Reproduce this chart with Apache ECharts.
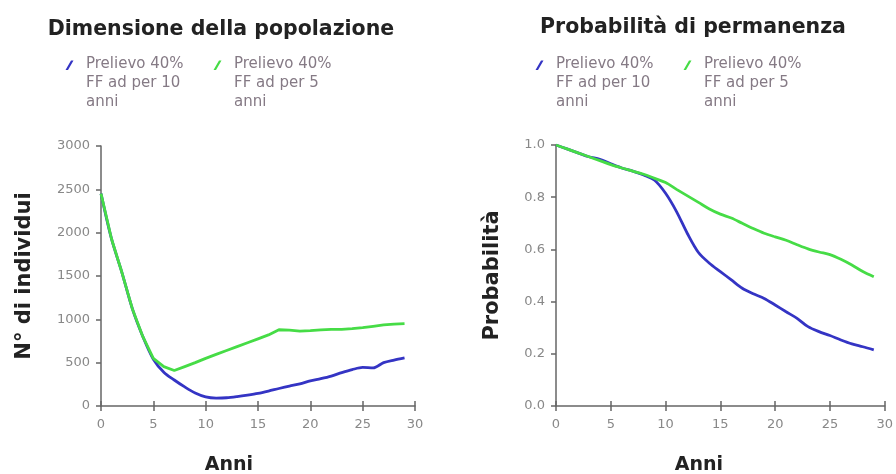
<!DOCTYPE html>
<html>
<head>
<meta charset="utf-8">
<script src="https://cdn.jsdelivr.net/npm/echarts@6/dist/echarts.min.js"></script>
<style>
html,body{margin:0;padding:0;background:#fff;}
#chart{width:896px;height:474px;}
</style>
</head>
<body>
<div id="chart"></div>
<script>
var years = [0,1,2,3,4,5,6,7,8,9,10,11,12,13,14,15,16,17,18,19,20,21,22,23,24,25,26,27,28,29];
var popBlue = [2450,1930,1540,1120,800,540,390,300,220,150,105,92,95,108,125,145,172,202,230,255,290,315,345,385,420,445,440,500,530,555];
var popGreen = [2450,1930,1540,1120,800,550,455,410,455,500,550,595,640,685,730,775,820,880,875,865,870,878,885,885,892,905,920,935,945,950];
var probBlue = [1.0,0.985,0.97,0.955,0.945,0.928,0.912,0.9,0.885,0.865,0.815,0.745,0.66,0.588,0.547,0.515,0.483,0.451,0.43,0.412,0.387,0.361,0.336,0.304,0.285,0.27,0.253,0.238,0.227,0.215];
var probGreen = [1.0,0.985,0.97,0.955,0.94,0.925,0.912,0.9,0.888,0.872,0.856,0.83,0.805,0.78,0.755,0.735,0.72,0.70,0.68,0.662,0.648,0.635,0.618,0.602,0.59,0.58,0.562,0.54,0.515,0.495];
var nameBlue = 'Prelievo 40% FF ad per 10 anni';
var nameGreen = 'Prelievo 40% FF ad per 5 anni';
var legendLines = {};
legendLines[nameBlue] = 'Prelievo 40%\nFF ad per 10\nanni';
legendLines[nameGreen] = 'Prelievo 40%\nFF ad per 5\nanni';

function pairs(ys){ return years.map(function(y,i){ return [y, ys[i]]; }); }

var BLUE = '#3434c4', GREEN = '#46dc46';
var axisColor = '#666', labelColor = '#888';
var font = 'DejaVu Sans';
// slash icon on the first legend line; the two tiny triangles only widen the icon box
var iconPath = 'path://M0,0 L0.01,0 L0,0.01 Z M16,57 L15.99,57 L16,56.99 Z M0.5,15 L3,15 L8.5,5.5 L6,5.5 Z';

function legend(name, left, color){
  return {
    data: [{name: name, icon: iconPath, itemStyle: {color: color}}],
    left: left, top: 50, padding: 5,
    itemWidth: 16, itemHeight: 57, itemGap: 0, selectedMode: false,
    formatter: function(n){ return legendLines[n]; },
    textStyle: {fontFamily: font, fontSize: 15, color: '#857a85', lineHeight: 19}
  };
}
function xAx(grid, inside){
  return {
    type: 'value', gridIndex: grid, min: 0, max: 30, interval: 5, position: 'bottom',
    axisLine: {show: !inside, lineStyle: {color: axisColor, width: 1.5}},
    axisTick: {show: true, inside: inside, length: 5, lineStyle: {color: axisColor, width: 1.5}},
    axisLabel: {show: !inside, margin: 12, color: labelColor, fontFamily: font, fontSize: 13},
    splitLine: {show: false}
  };
}
function yAx(grid, max, interval, name, gap, fmt){
  return {
    type: 'value', gridIndex: grid, min: 0, max: max, interval: interval,
    name: name, nameLocation: 'middle', nameGap: gap,
    nameTextStyle: {fontFamily: font, fontSize: 21, fontWeight: 'bold', color: '#222'},
    axisLine: {show: true, lineStyle: {color: axisColor, width: 1.5}},
    axisTick: {show: true, length: 5, lineStyle: {color: axisColor, width: 1.5}},
    axisLabel: {margin: 11, color: labelColor, fontFamily: font, fontSize: 13, formatter: fmt},
    splitLine: {show: false}
  };
}
function line(name, xi, yi, data, color, smooth){
  return {type: 'line', name: name, xAxisIndex: xi, yAxisIndex: yi, data: pairs(data),
    showSymbol: false, smooth: smooth, lineStyle: {color: color, width: 2.8}, itemStyle: {color: color}};
}
var titleStyle = {fontFamily: font, fontSize: 20.5, fontWeight: 'bold', color: '#222'};
var anniStyle = {fontFamily: font, fontSize: 19, fontWeight: 'bold', color: '#222'};

var chart = echarts.init(document.getElementById('chart'), null, {renderer: 'canvas'});
chart.setOption({
  animation: false,
  backgroundColor: '#fff',
  title: [
    {text: 'Dimensione della popolazione', left: 216, top: 14, textAlign: 'center', textStyle: titleStyle},
    {text: 'Probabilità di permanenza', left: 688, top: 12, textAlign: 'center', textStyle: titleStyle},
    {text: 'Anni', left: 224, top: 451, textAlign: 'center', textStyle: anniStyle},
    {text: 'Anni', left: 694, top: 451, textAlign: 'center', textStyle: anniStyle}
  ],
  legend: [
    legend(nameBlue, 60, BLUE),
    legend(nameGreen, 208, GREEN),
    legend(nameBlue, 530, BLUE),
    legend(nameGreen, 678, GREEN)
  ],
  grid: [
    {left: 101, top: 146, width: 314, height: 260},
    {left: 556, top: 145, width: 332, height: 261}
  ],
  xAxis: [xAx(0, false), xAx(1, false), xAx(0, true), xAx(1, true)],
  yAxis: [
    yAx(0, 3000, 500, 'N° di individui', 66, function(v){ return String(v); }),
    yAx(1, 1, 0.2, 'Probabilità', 53, function(v){ return v.toFixed(1); })
  ],
  series: [
    line(nameBlue, 0, 0, popBlue, BLUE, 0.3),
    line(nameGreen, 0, 0, popGreen, GREEN, false),
    line(nameBlue, 1, 1, probBlue, BLUE, 0.3),
    line(nameGreen, 1, 1, probGreen, GREEN, 0.3)
  ]
});
</script>
</body>
</html>
